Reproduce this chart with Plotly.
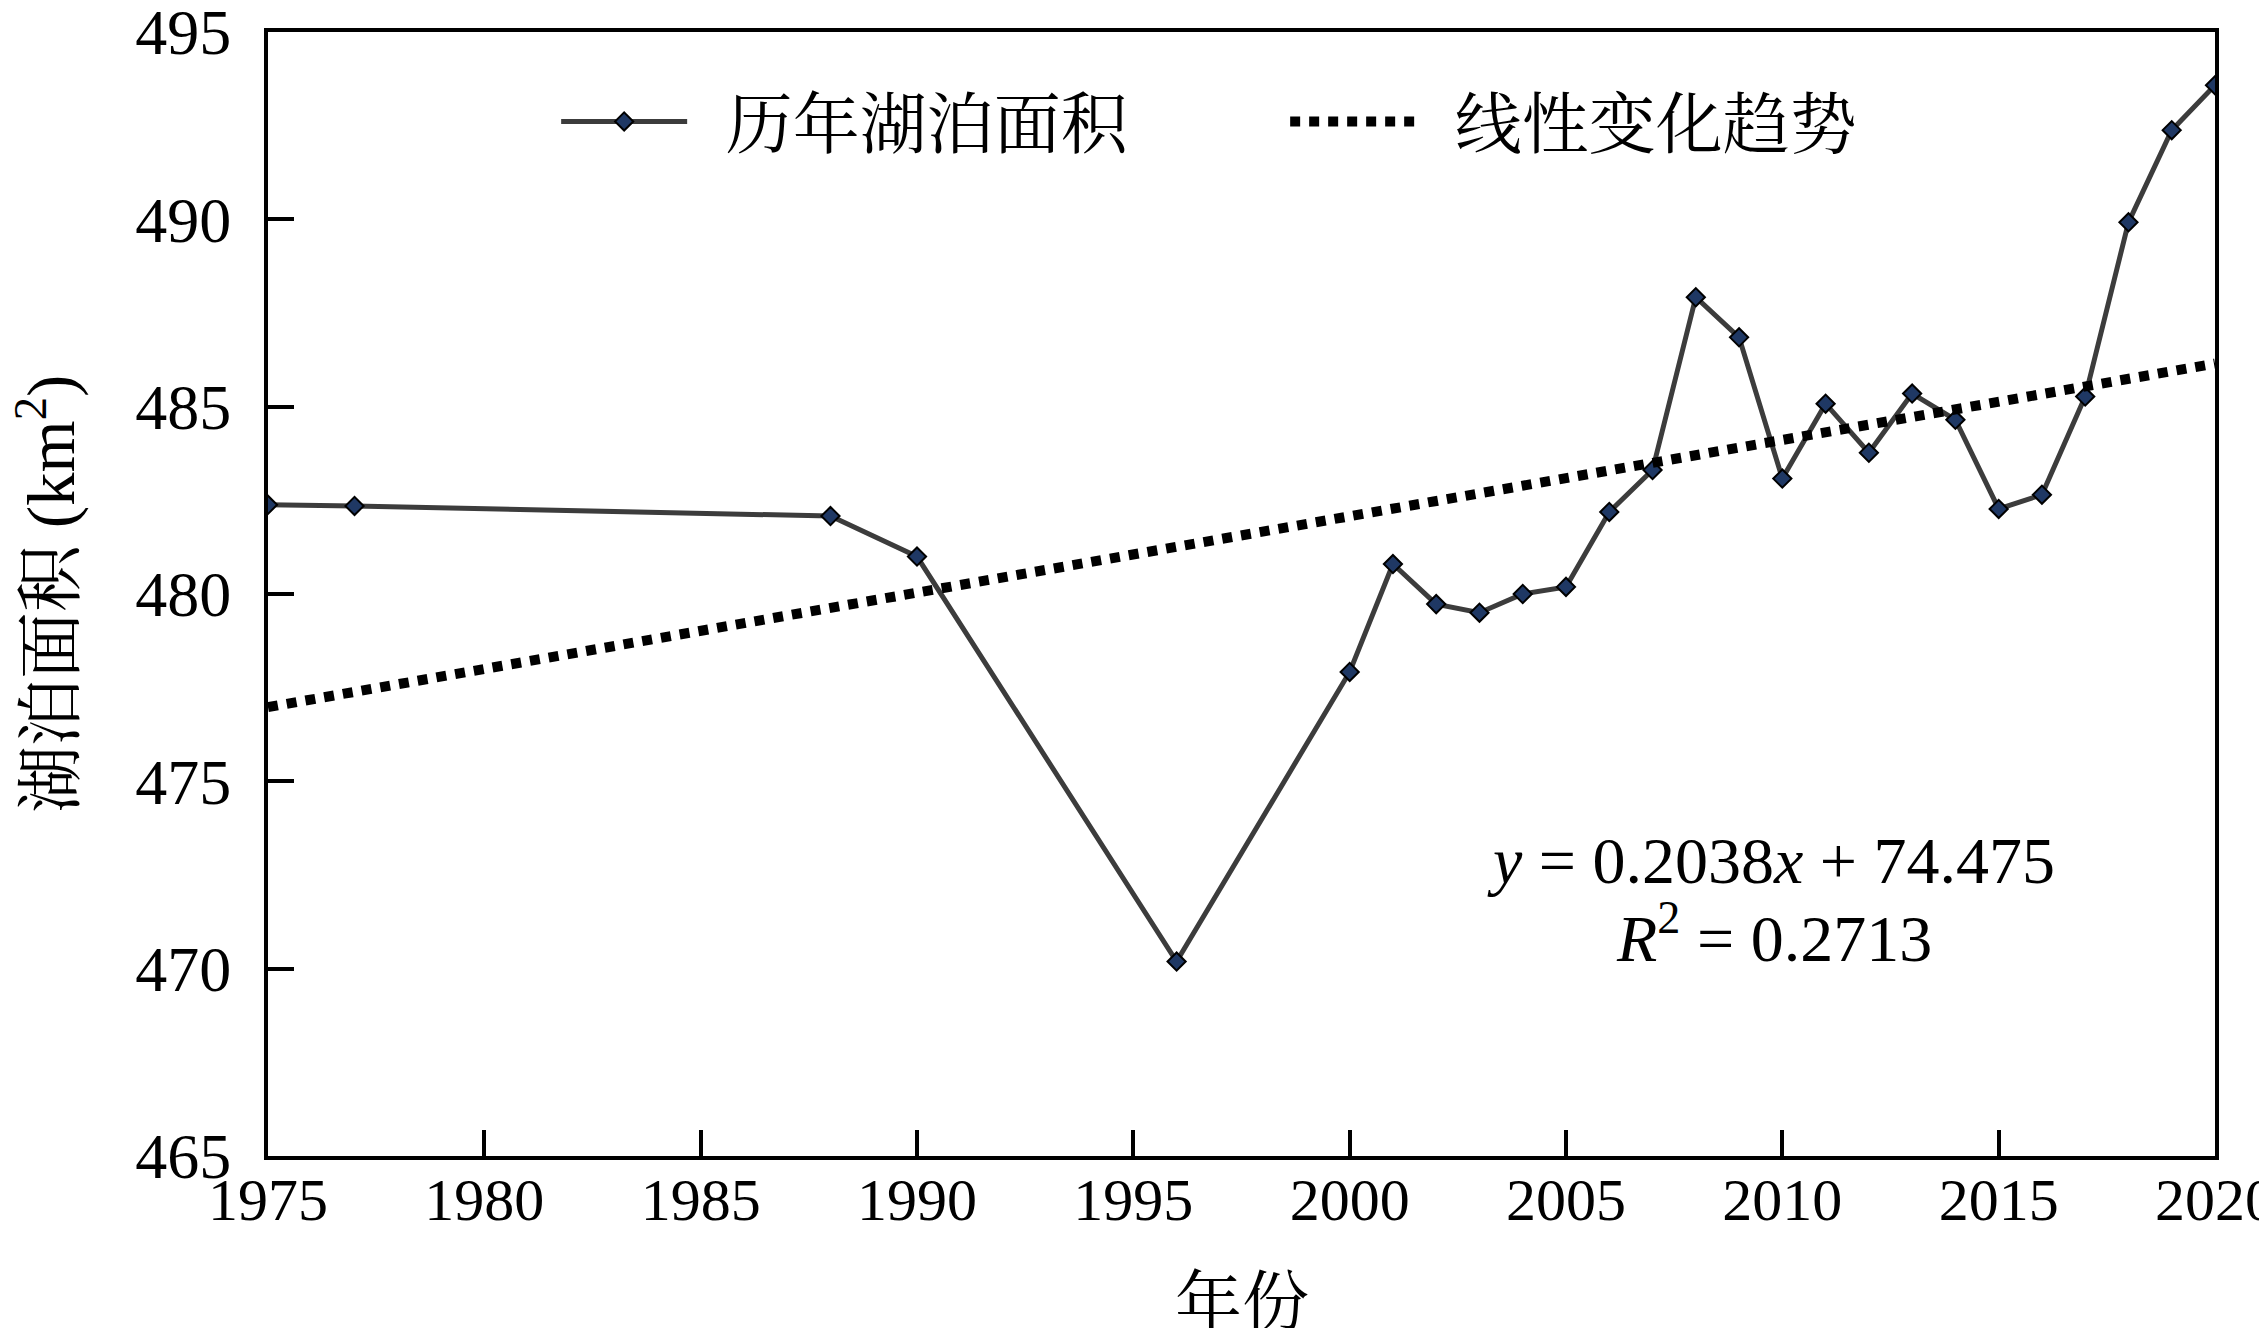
import plotly.graph_objects as go

years = [1975, 1977, 1988, 1990, 1996, 2000, 2001, 2002, 2003, 2004, 2005, 2006, 2007,
         2008, 2009, 2010, 2011, 2012, 2013, 2014, 2015, 2016, 2017, 2018, 2019, 2020]
area = [482.38, 482.35, 482.08, 481.0, 470.19, 477.92, 480.8, 479.73, 479.5, 480.0, 480.19,
        482.19, 483.31, 487.92, 486.85, 483.08, 485.08, 483.77, 485.35, 484.65, 482.27,
        482.65, 485.27, 489.92, 492.38, 493.58]

trend_years = [1975, 2020]
trend_values = [476.98, 486.15]

x_ticks = [1975, 1980, 1985, 1990, 1995, 2000, 2005, 2010, 2015, 2020]
y_ticks = [465, 470, 475, 480, 485, 490, 495]

series_name = "\u00a0\u00a0历年湖泊面积"
trend_name = "\u00a0\u00a0线性变化趋势"
x_title = "年份"
y_title = "湖泊面积 (km<sup>2</sup>)"
equation_line1 = "<i>y</i> = 0.2038<i>x</i> + 74.475"
equation_line2 = "<i>R</i><sup>2</sup> = 0.2713"

FONT = "Liberation Serif, Times New Roman, Noto Serif CJK SC, Noto Sans CJK SC, serif"

fig = go.Figure()
fig.add_trace(go.Scatter(
    x=years, y=area, name=series_name, mode="lines+markers",
    line=dict(color="#3C3C3C", width=5),
    marker=dict(symbol="diamond", size=14, color="#1F3864",
                line=dict(color="black", width=2)),
))
fig.add_trace(go.Scatter(
    x=trend_years, y=trend_values, name=trend_name, mode="lines",
    line=dict(color="black", width=10, dash="10px,9px"),
))

fig.add_annotation(
    x=2009.74, y=472.9, xref="x", yref="y", text=equation_line1, showarrow=False,
    font=dict(family=FONT, size=66, color="black"), align="center",
)
fig.add_annotation(
    x=2009.8, y=470.93, xref="x", yref="y", text=equation_line2, showarrow=False,
    font=dict(family=FONT, size=66, color="black"), align="center",
)
# axis titles placed as annotations for exact positioning
fig.add_annotation(
    x=-0.114, y=0.5, xref="paper", yref="paper", text=y_title, showarrow=False,
    textangle=-90, xanchor="center", yanchor="middle",
    font=dict(family=FONT, size=67, color="black"),
)
fig.add_annotation(
    x=0.5, y=-0.131, xref="paper", yref="paper", text=x_title, showarrow=False,
    xanchor="center", yanchor="middle",
    font=dict(family=FONT, size=67, color="black"),
)

fig.update_layout(
    width=2267, height=1328,
    margin=dict(l=260, r=60, t=24, b=180, autoexpand=False),
    paper_bgcolor="white", plot_bgcolor="white",
    font=dict(family=FONT, size=62, color="black"),
    showlegend=True,
    legend=dict(
        orientation="h", x=0.148, xanchor="left", y=0.92, yanchor="middle",
        font=dict(family=FONT, size=67, color="black"),
        bgcolor="rgba(0,0,0,0)", itemwidth=126,
        entrywidth=588, entrywidthmode="pixels",
    ),
    xaxis=dict(
        range=[1975, 2020], tickvals=x_ticks, ticktext=[str(v) for v in x_ticks],
        ticks="inside", ticklen=26, tickwidth=4, tickcolor="black",
        showline=True, linewidth=4, linecolor="black", mirror=True,
        showgrid=False, zeroline=False,
        tickfont=dict(family=FONT, size=60),
        ticklabelstandoff=-12, ticklabeloverflow="allow",
    ),
    yaxis=dict(
        range=[465, 495], tickvals=y_ticks, ticktext=[str(v) for v in y_ticks],
        ticks="inside", ticklen=26, tickwidth=4, tickcolor="black",
        showline=True, linewidth=4, linecolor="black", mirror=True,
        showgrid=False, zeroline=False,
        tickfont=dict(family=FONT, size=64),
        ticklabelstandoff=20, ticklabeloverflow="allow",
    ),
)

fig.write_html("out.html")
